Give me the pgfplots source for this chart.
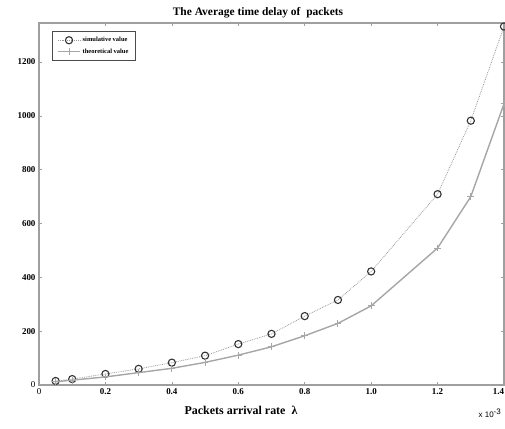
\documentclass[border=0pt]{standalone}
\usepackage{pgfplots}
\pgfplotsset{compat=1.18}
\usepackage{fontspec}
\setmainfont{Liberation Serif}
\setsansfont{Liberation Sans}
\begin{document}
\begin{tikzpicture}[x=1bp,y=1bp]
\path[use as bounding box] (-39,-43) rectangle (466,385);
\begin{axis}[at={(0,0)},anchor=south west, scale only axis,
  width=465bp, height=362bp,
  xmin=0, xmax=1.4, ymin=0, ymax=1345,
  xtick={0,0.2,0.4,0.6,0.8,1.0,1.2,1.4},
  xticklabels={\textmd{0},0.2,0.4,0.6,0.8,1.0,1.2,\makebox[0pt][r]{1.4}},
  ytick={0,200,400,600,800,1000,1200},
  yticklabels={\textmd{0},200,400,600,800,1000,1200},
  tick align=inside, major tick length=3bp,
  axis line style={gray!75, line width=1.2bp},
  tick style={gray!75, line width=0.6bp},
  tick label style={font=\fontsize{9}{10}\selectfont\bfseries},
  /pgf/number format/assume math mode=true,
  scaled x ticks=false,
  clip mode=individual,
  legend style={at={(0.028,0.978)}, anchor=north west, draw=black!70, line width=0.6bp,
    font=\fontsize{6.5}{8}\selectfont\bfseries, inner xsep=5bp, inner ysep=4bp, row sep=1.5bp},
  legend cell align=left,
  legend image code/.code={%
    \draw[#1, mark indices={2}] plot coordinates {(0bp,0bp) (11bp,0bp) (22bp,0bp)};},
]
\addplot[gray!80, densely dotted, line width=0.8bp, mark=o,
  mark options={solid, black!80, line width=1.1bp, scale=1.8}]
  coordinates {(0.05,15)(0.1,22)(0.2,41)(0.3,60)(0.4,83)(0.5,109)(0.6,152)(0.7,190)(0.8,256)(0.9,316)(1.0,422)(1.2,709)(1.3,982)(1.4,1332)};
\addlegendentry{simulative value}
\addplot[gray!70, solid, line width=1.4bp, mark=+,
  mark options={gray!70, line width=1bp, scale=1.7}]
  coordinates {(0.05,12)(0.1,18)(0.2,30)(0.3,46)(0.4,62)(0.5,84)(0.6,111)(0.7,142)(0.8,183)(0.9,229)(1.0,294)(1.2,509)(1.3,700)(1.4,1045)};
\addlegendentry{theoretical value}
\end{axis}
\node[font=\bfseries\fontsize{11.5}{13}\selectfont] at (219,372) {The Average time delay of\ \ packets};
\node[font=\bfseries\fontsize{12}{14}\selectfont] at (202,-25) {Packets arrival rate\ \ λ};
\node[font=\sffamily\fontsize{8}{9}\selectfont] at (451,-28) {x 10$^{\textsf{-3}}$};
\end{tikzpicture}
\end{document}
